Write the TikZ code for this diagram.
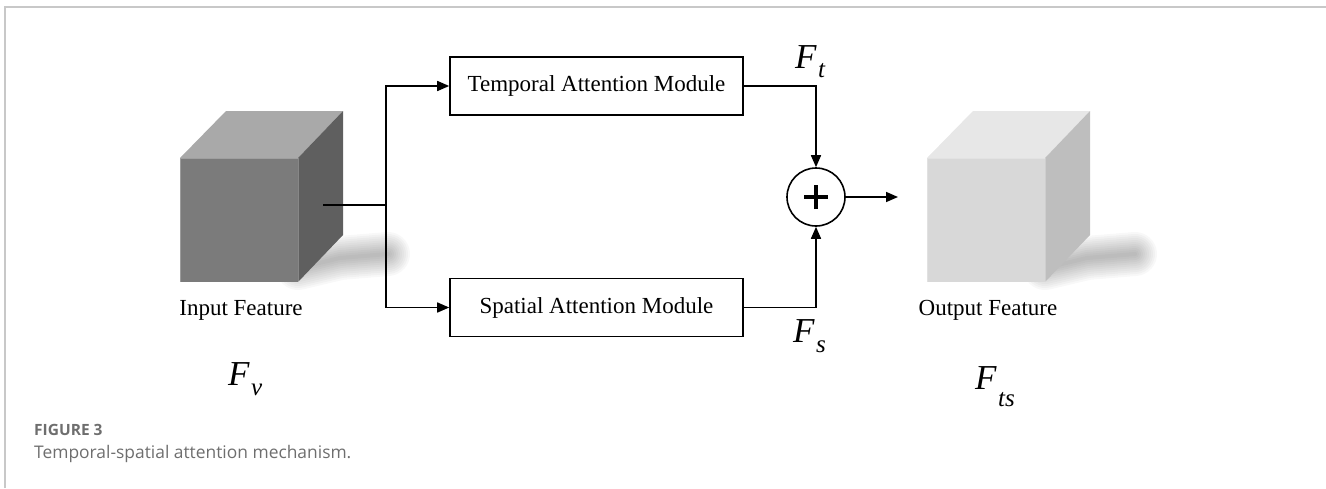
\documentclass[tikz,border=0pt]{standalone}
\usepackage{fontspec}
\setmainfont{Liberation Serif}
\newfontfamily\capfont{Open Sans}
\usetikzlibrary{arrows.meta}

\definecolor{framegray}{HTML}{C8C8C8}
\definecolor{capgray}{HTML}{6E6E6E}
\definecolor{inFront}{HTML}{7B7B7B}
\definecolor{inTop}{HTML}{A9A9A9}
\definecolor{inSide}{HTML}{5F5F5F}
\definecolor{outFront}{HTML}{D8D8D8}
\definecolor{outTop}{HTML}{E7E7E7}
\definecolor{outSide}{HTML}{BEBEBE}

% italic symbol with a lowered subscript
\newcommand\symlabel[3]{{\fontsize{35}{40}\selectfont\itshape #1}\kern1.5pt\raisebox{-#3}{\fontsize{25}{28}\selectfont\itshape #2}}

\begin{document}
\begin{tikzpicture}[x=1pt,y=-1pt,
  conn/.style={line width=1.6pt},
  arr/.style={conn,-{Triangle[length=12pt,width=10pt]}},
  modbox/.style={draw,line width=1.6pt,minimum width=293pt,minimum height=58pt,
    inner sep=0pt,font=\fontsize{23}{27}\selectfont},
  lab/.style={font=\fontsize{23}{27}\selectfont,inner sep=0pt,anchor=base},
  sym/.style={inner sep=0pt,anchor=base west},
  pics/featcube/.style n args={3}{code={
     % soft cast shadow: stacked translucent strokes along its spine
     \foreach \w in {44,40,...,4}{
       \draw[black,opacity=0.026,line width=\w pt,line join=round,line cap=round]
         (118,110) -- (160,100) -- (208,96);}
     % faces
     \fill[#1] (0,0) rectangle (118,124);
     \fill[#2] (0,0) -- (46,-47) -- (163,-47) -- (118,0) -- cycle;
     \fill[#3] (118,0) -- (163,-47) -- (163,77) -- (118,124) -- cycle;
     \draw[white,opacity=0.25,line width=0.8pt] (0,124) -- (0,0) -- (118,0) -- (118,124);
  }}]
\useasboundingbox (0,0) rectangle (1326,488);

% page frame
\draw[framegray,line width=2pt] (4.5,488) -- (4.5,6.5) -- (1326,6.5);

% feature cubes
\pic at (180,158) {featcube={inFront}{inTop}{inSide}};
\pic at (927,158) {featcube={outFront}{outTop}{outSide}};

\node[lab] (inlab) at (241,315) {Input Feature};
\node[lab] (outlab) at (988,315) {Output Feature};

\node[sym] (fv) at (228,385) {\symlabel{F}{v}{10pt}};
\node[sym] (fts) at (975,389) {\symlabel{F}{ts}{17pt}};

% attention modules
\node[modbox] (tam) at (596.5,86) {Temporal Attention Module};
\node[modbox] (sam) at (596.5,307.5) {Spatial Attention Module};

% fusion
\node[circle,draw,line width=1.6pt,minimum size=58pt,inner sep=0pt] (plus) at (816,197) {};
\draw[line width=4pt] ([xshift=-12pt]plus.center) -- ([xshift=12pt]plus.center);
\draw[line width=4pt] ([yshift=-12pt]plus.center) -- ([yshift=12pt]plus.center);

\node[sym] (ft) at (795,68) {\symlabel{F}{t}{9pt}};
\node[sym] (fs) at (793,342) {\symlabel{F}{s}{10pt}};

\coordinate (src) at (323,205);
\coordinate (split) at (386,205);
\coordinate (sink) at (898,197);

\draw[conn] (src) -- (split);
\draw[arr] (split) |- (tam.west);
\draw[arr] (split) |- (sam.west);
\draw[arr] (tam.east) -| (plus.north);
\draw[arr] (sam.east) -| (plus.south);
\draw[arr] (plus.east) -- (sink);

% caption
\node[anchor=base west,inner sep=0pt,text=capgray,font=\capfont\bfseries\fontsize{15.5}{18}\selectfont] (fig) at (34,435) {FIGURE 3};
\node[anchor=base west,inner sep=0pt,text=capgray,font=\capfont\fontsize{17.4}{20}\selectfont] (cap) at (34,458) {Temporal-spatial attention mechanism.};
\end{tikzpicture}
\end{document}
